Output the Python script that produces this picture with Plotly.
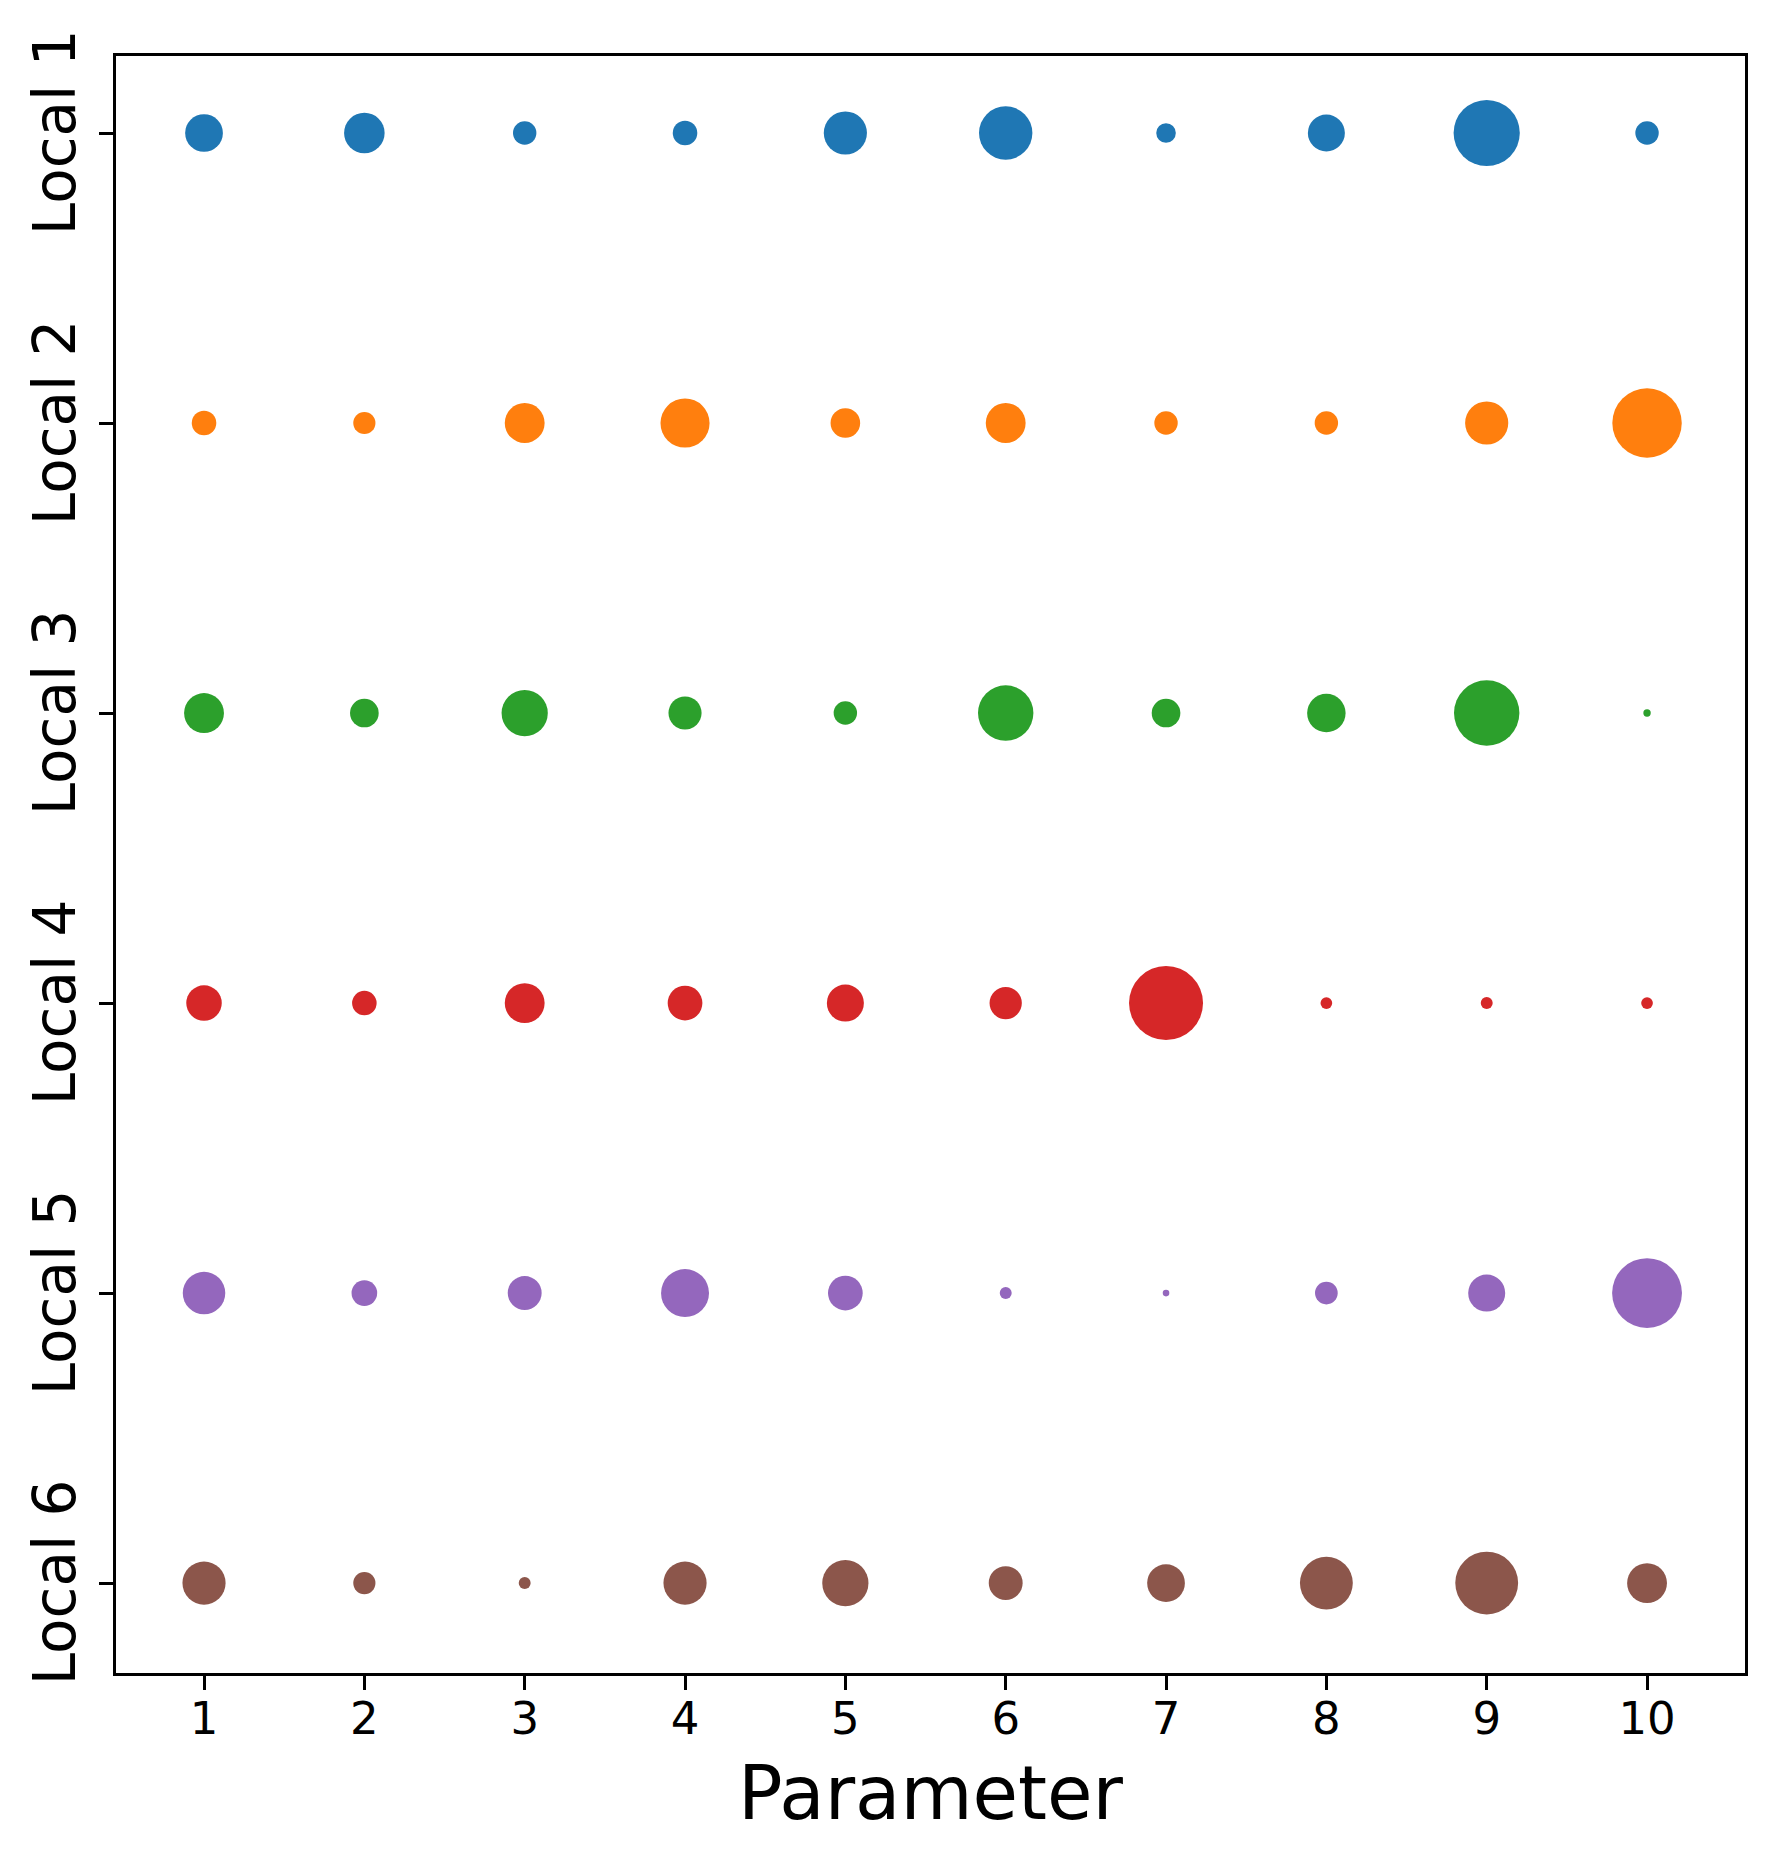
import plotly.graph_objects as go

# parameter index along the x axis
params = [1, 2, 3, 4, 5, 6, 7, 8, 9, 10]
locals_ = ["Local 1", "Local 2", "Local 3", "Local 4", "Local 5", "Local 6"]

# bubble weights per local (area-like values)
local_1 = [26, 30, 10, 11, 34, 52, 7, 25, 80, 10]
local_2 = [11, 9, 29, 44, 16, 29, 10, 10, 34, 88]
local_3 = [29, 15, 39, 20, 10, 56, 15, 27, 78, 1]
local_4 = [23, 11, 29, 22, 25, 19, 100, 2.5, 2.6, 2.5]
local_5 = [33, 12, 21, 42, 22, 2.6, 0.8, 9.4, 25, 89]
local_6 = [34, 9, 2.6, 34, 39, 21, 26, 51, 72, 29]

weights = [local_1, local_2, local_3, local_4, local_5, local_6]
colors = ["#1f77b4", "#ff7f0e", "#2ca02c", "#d62728", "#9467bd", "#8c564b"]

fig = go.Figure()
for name, w, c in zip(locals_, weights, colors):
    fig.add_trace(go.Scatter(
        x=params, y=[name] * len(params), mode="markers", name=name,
        marker=dict(size=w, sizemode="area", sizeref=0.0365, color=c,
                    opacity=1, line=dict(width=0)),
    ))

axis_common = dict(
    showline=True, mirror=True, linecolor="black", linewidth=3,
    ticks="outside", ticklen=14, tickwidth=3, tickcolor="black",
    showgrid=False, zeroline=False, automargin=False,
)

# page body has an 8px margin, so the figure is a bit smaller than the window
fig.update_layout(
    width=1757, height=1848,
    margin=dict(l=108, r=20, t=48, b=183, pad=0),
    plot_bgcolor="white", paper_bgcolor="white",
    showlegend=False,
    font=dict(family="DejaVu Sans", color="black"),
    xaxis=dict(
        range=[0.451, 10.611], tickvals=params,
        tickfont=dict(size=45), ticklabelstandoff=-10,
        title=dict(text="Parameter", font=dict(size=74), standoff=24),
        **axis_common,
    ),
    yaxis=dict(
        type="category", categoryorder="array", categoryarray=locals_,
        range=[5.31, -0.2655], tickangle=-90,
        tickfont=dict(size=58), ticklabelstandoff=1, ticklabelshift=-8,
        **axis_common,
    ),
)

fig.write_html("out.html")
